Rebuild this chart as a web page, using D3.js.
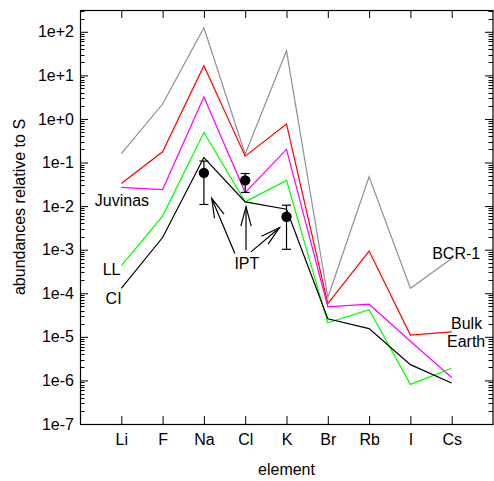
<!DOCTYPE html>
<html>
<head>
<meta charset="utf-8">
<script src="https://cdn.jsdelivr.net/npm/d3@7"></script>
<style>
  html, body { margin: 0; padding: 0; background: #fff; }
  svg { display: block; font-family: "Liberation Sans", Arial, Helvetica, sans-serif; }
</style>
</head>
<body>
<svg id="chart" width="494" height="481"></svg>
<script>
// ---- data ----
const elements = ["Li", "F", "Na", "Cl", "K", "Br", "Rb", "I", "Cs"];
const bcr1      = [0.16, 2.2, 124, 0.155, 36.6, 8.0e-5, 0.047, 1.3e-4, 6.3e-4];
const bulkEarth = [0.033, 0.176, 16.6, 0.14, 0.76, 5.8e-5, 9.3e-4, 1.1e-5, 1.3e-5];
const juvinas   = [0.027, 0.024, 3.2, 0.0204, 0.2, 4.9e-5, 5.6e-5, 7.9e-6, 1.17e-6];
const llChond   = [4.3e-4, 5.9e-3, 0.49, 0.0125, 0.039, 2.1e-5, 4.2e-5, 8.1e-7, 1.9e-6];
const ciChond   = [1.3e-4, 1.9e-3, 0.13, 0.0125, 8.5e-3, 2.6e-5, 1.55e-5, 2.3e-6, 8.7e-7];

const iptElements = ["Na", "Cl", "K"];
const iptValue = [0.058, 0.039, 0.0057];
const iptLow   = [0.0109, 0.0206, 0.00102];
const iptHigh  = [0.108, 0.056, 0.0105];

const yTickValues = [1e2, 1e1, 1e0, 1e-1, 1e-2, 1e-3, 1e-4, 1e-5, 1e-6, 1e-7];

// annotation positions in data units (x = element index, 1-based; y = abundance)
const seriesLabels = [
  { text: "Juvinas", x: 0.36, y: 0.0137, anchor: "start" },
  { text: "LL",      x: 0.55, y: 3.56e-4, anchor: "start" },
  { text: "CI",      x: 0.62, y: 7.7e-5, anchor: "start" },
  { text: "IPT",     x: 4.04, y: 4.9e-4, anchor: "middle" },
  { text: "BCR-1",   x: 9.69, y: 8.3e-4, anchor: "end" },
  { text: "Bulk",    x: 9.36, y: 2.06e-5, anchor: "middle" },
  { text: "Earth",   x: 9.35, y: 7.7e-6, anchor: "middle" }
];
const arrows = [
  { x1: 3.75, y1: 8.2e-4, x2: 3.19, y2: 0.015 },
  { x1: 4.02, y1: 9.8e-4, x2: 4.02, y2: 9.6e-3 },
  { x1: 4.14, y1: 8.9e-4, x2: 4.83, y2: 3.2e-3 }
];

// ---- layout ----
const svg = d3.select("#chart");
const L = 80, R = 493, T = 10, B = 424;
const x = d3.scaleLinear().domain([0, 10]).range([L, R]);
const y = d3.scaleLog().domain([1e-7, 316.2]).range([B, T]);
const xi = name => elements.indexOf(name) + 1;

const fontSize = 16;

// frame
svg.append("rect")
  .attr("x", L + 0.5).attr("y", T + 0.5)
  .attr("width", R - L - 0.5).attr("height", B - T)
  .attr("fill", "none").attr("stroke", "#000").attr("stroke-width", 1.2);

// bottom axis (ticks inward, labels below)
const xAxis = d3.axisBottom(x)
  .tickValues(d3.range(1, elements.length + 1))
  .tickFormat(d => elements[d - 1])
  .tickSizeInner(-8).tickSizeOuter(0).tickPadding(10);
const gx = svg.append("g").attr("transform", `translate(0,${B})`).call(xAxis);
gx.select(".domain").remove();
gx.selectAll("text").attr("font-size", fontSize).attr("font-family", "Liberation Sans, Arial, sans-serif").attr("fill", "#000");
gx.selectAll("line").attr("stroke", "#000");

// top axis ticks (mirror)
const xTop = d3.axisTop(x)
  .tickValues(d3.range(1, elements.length + 1))
  .tickFormat("")
  .tickSizeInner(-8).tickSizeOuter(0);
const gxt = svg.append("g").attr("transform", `translate(0,${T})`).call(xTop);
gxt.select(".domain").remove();
gxt.selectAll("line").attr("stroke", "#000");

// left axis
const fmt = d => {
  const e = Math.round(Math.log10(d));
  return "1e" + (e >= 0 ? "+" : "-") + Math.abs(e);
};
const yAxis = d3.axisLeft(y).tickValues(yTickValues).tickFormat(fmt)
  .tickSizeInner(-8).tickSizeOuter(0).tickPadding(6);
const gy = svg.append("g").attr("transform", `translate(${L},0)`).call(yAxis);
gy.select(".domain").remove();
gy.selectAll("text").attr("font-size", fontSize).attr("font-family", "Liberation Sans, Arial, sans-serif").attr("fill", "#000");
gy.selectAll("line").attr("stroke", "#000");

// right axis ticks (mirror)
const yRight = d3.axisRight(y).tickValues(yTickValues).tickFormat("")
  .tickSizeInner(-8).tickSizeOuter(0);
const gyr = svg.append("g").attr("transform", `translate(${R},0)`).call(yRight);
gyr.select(".domain").remove();
gyr.selectAll("line").attr("stroke", "#000");

// minor log ticks
const minor = [];
for (let e = -7; e <= 2; e++) {
  for (let m = 2; m <= 9; m++) {
    const v = m * Math.pow(10, e);
    if (v <= y.domain()[1]) minor.push(v);
  }
}
const gm = svg.append("g").attr("stroke", "#000");
gm.selectAll("line.ml").data(minor).join("line")
  .attr("x1", L).attr("x2", L + 4.5)
  .attr("y1", d => Math.round(y(d)) + 0.5).attr("y2", d => Math.round(y(d)) + 0.5);
gm.selectAll("line.mr").data(minor).join("line")
  .attr("x1", R).attr("x2", R - 4.5)
  .attr("y1", d => Math.round(y(d)) + 0.5).attr("y2", d => Math.round(y(d)) + 0.5);

// axis titles
svg.append("text")
  .attr("x", (L + R) / 2).attr("y", 475)
  .attr("text-anchor", "middle").attr("font-size", fontSize)
  .text("element");
svg.append("text")
  .attr("transform", `translate(25,207) rotate(-90)`)
  .attr("text-anchor", "middle").attr("font-size", fontSize)
  .text("abundances relative to S");

// series lines
const series = [
  { values: bcr1,      color: "#909090" },
  { values: bulkEarth, color: "#ff0000" },
  { values: juvinas,   color: "#ff00ff" },
  { values: llChond,   color: "#00ff00" },
  { values: ciChond,   color: "#000000" }
];
const line = d3.line().x((d, i) => x(i + 1)).y(d => y(d));
svg.append("g").selectAll("path").data(series).join("path")
  .attr("d", d => line(d.values))
  .attr("fill", "none")
  .attr("stroke", d => d.color)
  .attr("stroke-width", 1.2);

// IPT points with error bars
const ipt = iptElements.map((e, i) => ({ e, v: iptValue[i], lo: iptLow[i], hi: iptHigh[i] }));
const ge = svg.append("g").attr("stroke", "#000").attr("stroke-width", 1.2);
ge.selectAll("line.v").data(ipt).join("line")
  .attr("x1", d => x(xi(d.e))).attr("x2", d => x(xi(d.e)))
  .attr("y1", d => y(d.lo)).attr("y2", d => y(d.hi));
ge.selectAll("line.lo").data(ipt).join("line")
  .attr("x1", d => x(xi(d.e)) - 4.5).attr("x2", d => x(xi(d.e)) + 4.5)
  .attr("y1", d => y(d.lo)).attr("y2", d => y(d.lo));
ge.selectAll("line.hi").data(ipt).join("line")
  .attr("x1", d => x(xi(d.e)) - 4.5).attr("x2", d => x(xi(d.e)) + 4.5)
  .attr("y1", d => y(d.hi)).attr("y2", d => y(d.hi));
svg.append("g").selectAll("circle").data(ipt).join("circle")
  .attr("cx", d => x(xi(d.e))).attr("cy", d => y(d.v))
  .attr("r", 5.2).attr("fill", "#000");

// arrows (open heads)
const ga = svg.append("g").attr("stroke", "#000").attr("stroke-width", 1.2).attr("fill", "none");
arrows.forEach(a => {
  const X1 = x(a.x1), Y1 = y(a.y1), X2 = x(a.x2), Y2 = y(a.y2);
  const ang = Math.atan2(Y1 - Y2, X1 - X2);
  const hl = 20, ha = 15 * Math.PI / 180;
  ga.append("line").attr("x1", X1).attr("y1", Y1).attr("x2", X2).attr("y2", Y2);
  ga.append("path").attr("d",
    `M${X2 + hl * Math.cos(ang + ha)},${Y2 + hl * Math.sin(ang + ha)}L${X2},${Y2}L${X2 + hl * Math.cos(ang - ha)},${Y2 + hl * Math.sin(ang - ha)}`);
});

// series labels
svg.append("g").selectAll("text").data(seriesLabels).join("text")
  .attr("x", d => x(d.x)).attr("y", d => y(d.y))
  .attr("dy", "0.35em")
  .attr("text-anchor", d => d.anchor)
  .attr("font-size", fontSize)
  .attr("fill", "#000")
  .text(d => d.text);
</script>
</body>
</html>
